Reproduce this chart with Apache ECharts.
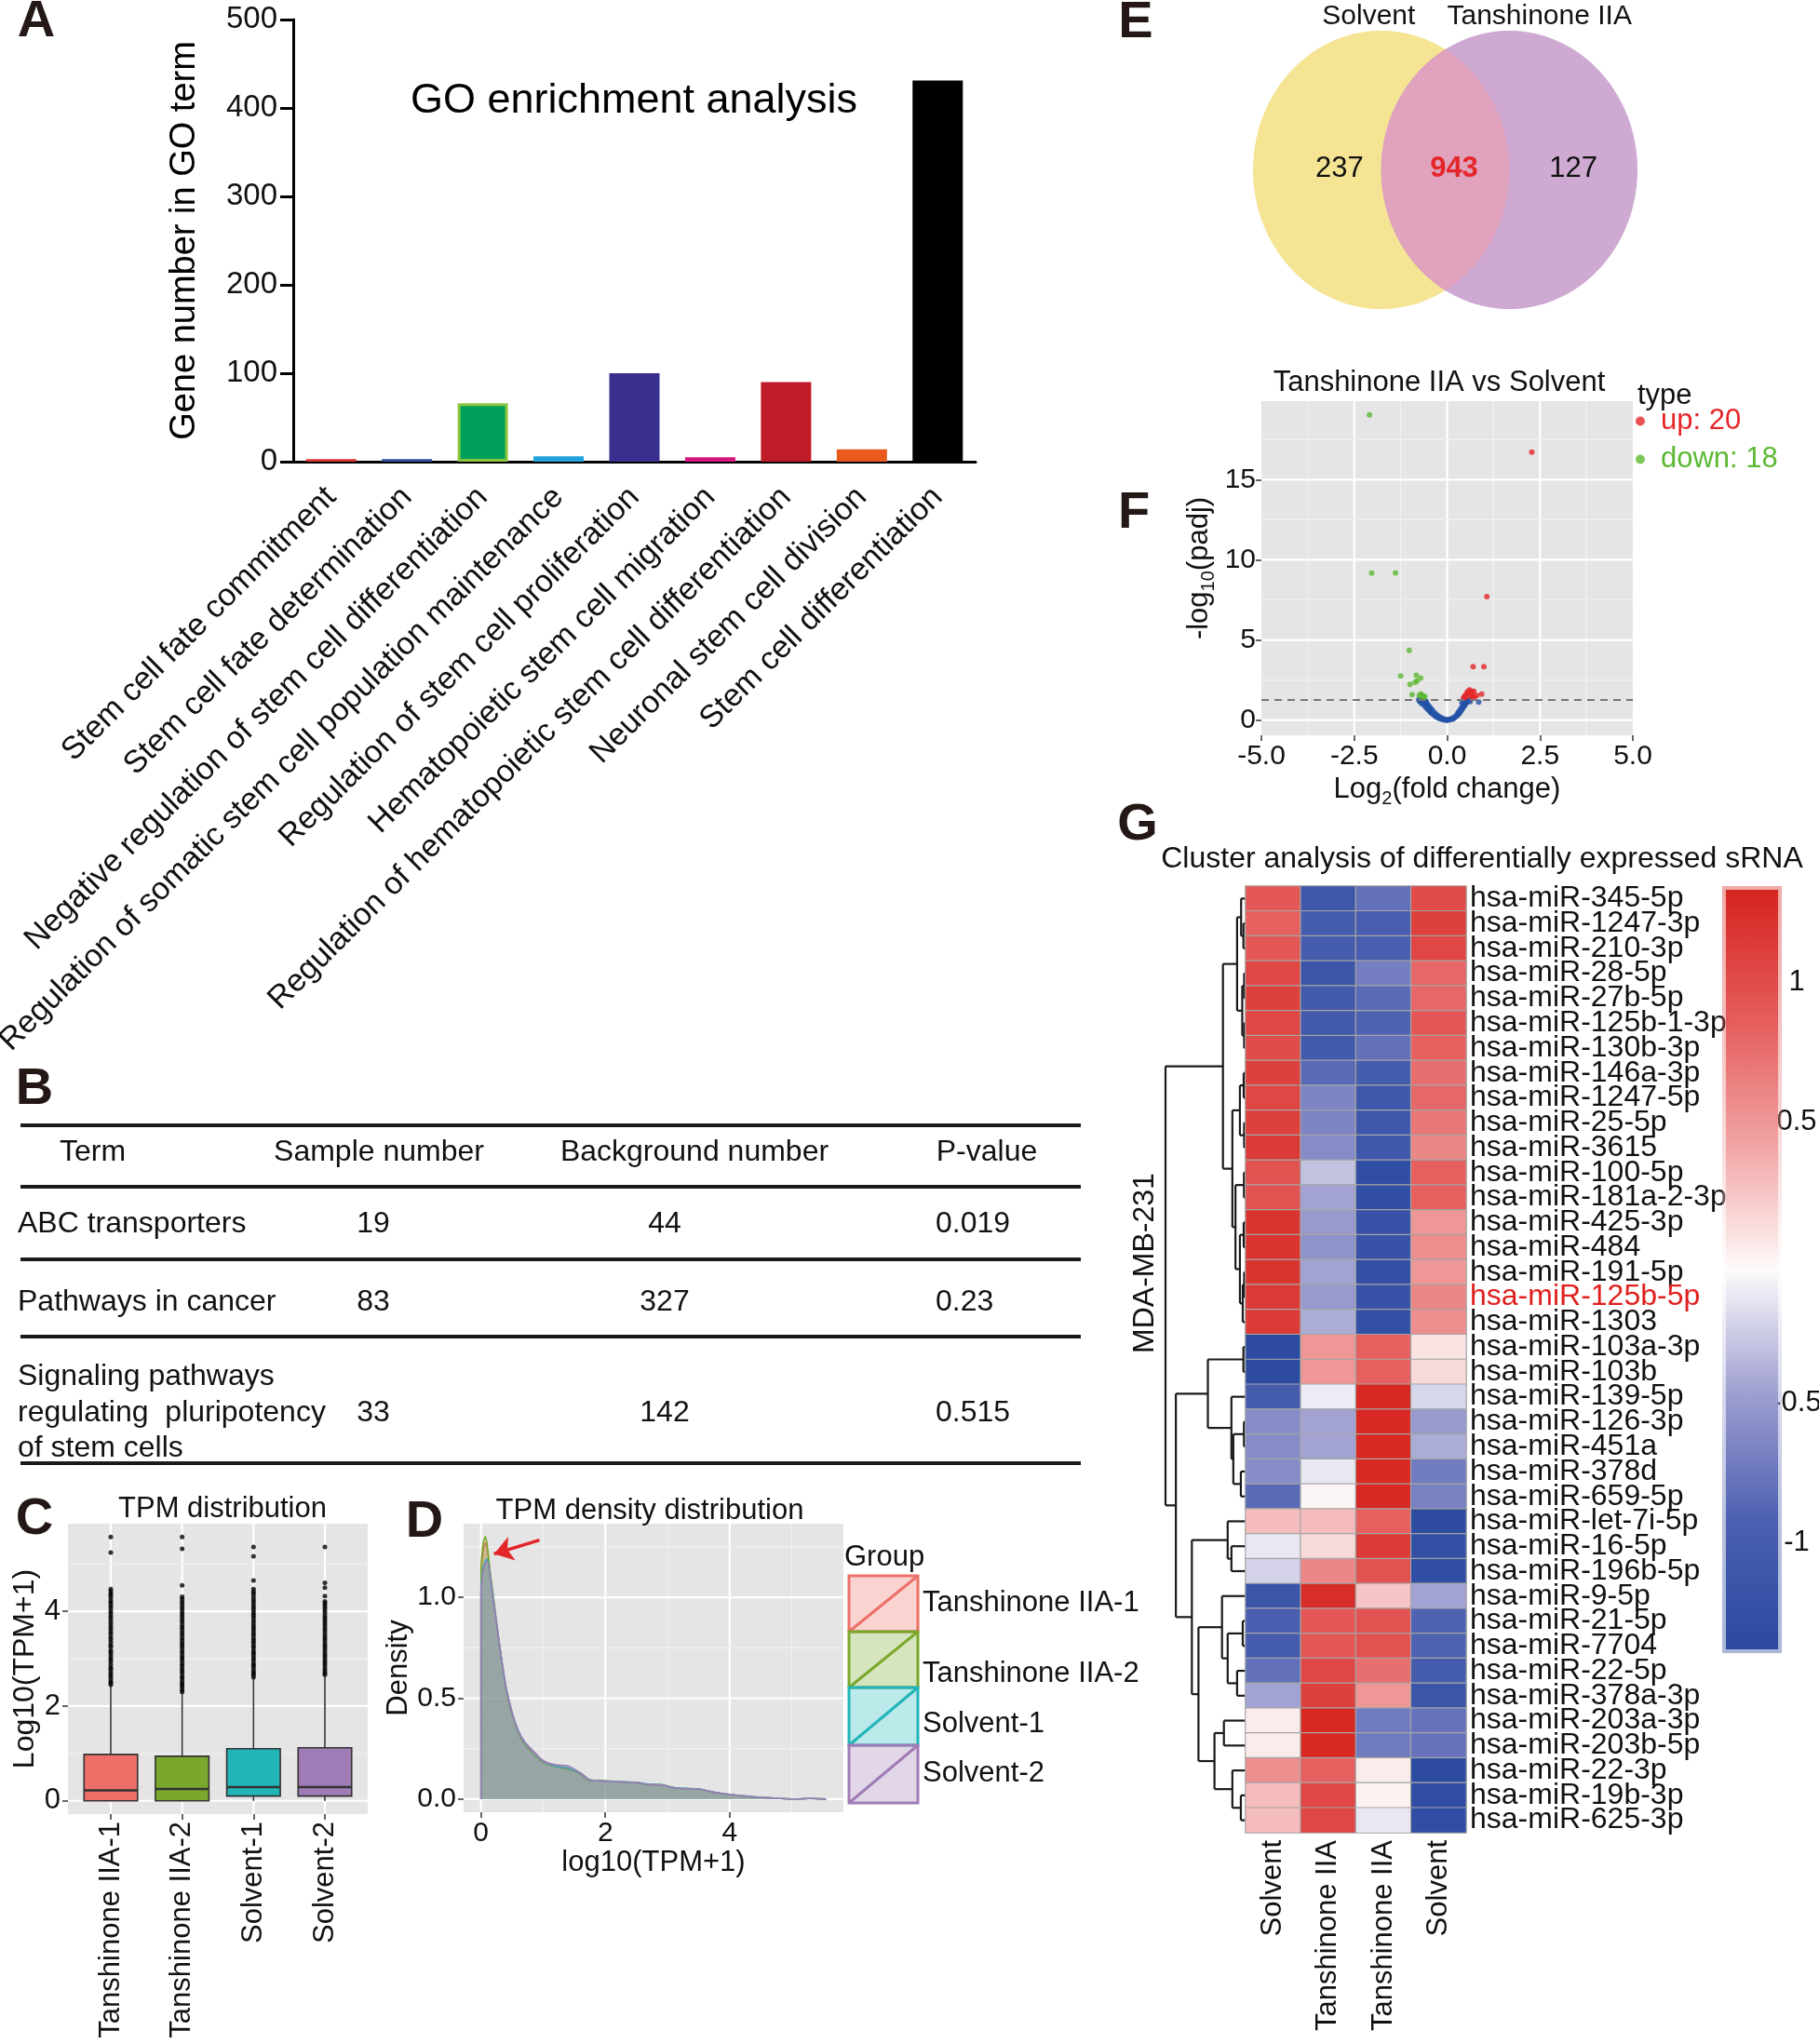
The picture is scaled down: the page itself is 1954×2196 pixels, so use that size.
<!DOCTYPE html>
<html><head><meta charset="utf-8">
<script src="https://cdn.jsdelivr.net/npm/echarts@6/dist/echarts.min.js"></script>
<style>html,body{margin:0;padding:0;background:#fff}#chart{width:1954px;height:2196px}</style>
</head><body><div id="chart"></div>
<script>
const FONT = "'Liberation Sans', Arial, Helvetica, sans-serif";

// ---------- Panel A: GO enrichment ----------
const goTerms = ['Stem cell fate commitment','Stem cell fate determination','Negative regulation of stem cell differentiation','Regulation of somatic stem cell population maintenance','Regulation of stem cell proliferation','Hematopoietic stem cell migration','Regulation of hematopoietic stem cell differentiation','Neuronal stem cell division','Stem cell differentiation'];
const goCounts = [3, 3, 66, 6, 100, 5, 90, 14, 431];
const goYTicks = [0, 100, 200, 300, 400, 500];

// ---------- Panel B: KEGG table ----------
const tableHeader = ['Term','Sample number','Background number','P-value'];
const tableTerms = [['ABC transporters'], ['Pathways in cancer'], ['Signaling pathways','regulating  pluripotency','of stem cells']];
const tableSample = [19, 83, 33];
const tableBackground = [44, 327, 142];
const tablePValue = ['0.019', '0.23', '0.515'];

// ---------- Panel C: TPM boxplots ----------
const boxNames = ['Tanshinone IIA-1','Tanshinone IIA-2','Solvent-1','Solvent-2'];
// [lower whisker, Q1, median, Q3, upper whisker]
const boxStats = [
  [0, 0, 0.22, 0.98, 2.43],
  [0, 0, 0.25, 0.94, 2.28],
  [0, 0.1, 0.29, 1.10, 2.59],
  [0, 0.1, 0.29, 1.12, 2.64]
];
const boxOutliers1 = [2.45,2.49,2.52,2.58,2.63,2.67,2.72,2.78,2.81,2.87,2.93,2.98,3.03,3.09,3.14,3.18,3.25,3.29,3.35,3.41,3.46,3.52,3.57,3.63,3.68,3.74,3.79,3.85,3.9,3.96,4.01,4.07,4.12,4.18,4.22,4.28,4.33,4.37,4.42,4.47,5.24,5.57];
const boxOutliers2 = [2.3,2.34,2.39,2.44,2.48,2.53,2.59,2.63,2.69,2.74,2.79,2.85,2.9,2.96,3.01,3.06,3.12,3.17,3.23,3.28,3.33,3.39,3.44,3.5,3.55,3.61,3.66,3.71,3.77,3.82,3.88,3.93,3.98,4.04,4.09,4.15,4.2,4.26,4.31,4.55,5.32,5.57];
const boxOutliers3 = [2.61,2.66,2.7,2.75,2.81,2.86,2.9,2.96,3.01,3.07,3.12,3.16,3.22,3.27,3.33,3.38,3.43,3.49,3.54,3.6,3.65,3.7,3.76,3.81,3.87,3.92,3.97,4.03,4.08,4.13,4.19,4.24,4.3,4.36,4.41,4.47,4.65,5.16,5.36];
const boxOutliers4 = [2.66,2.7,2.75,2.8,2.86,2.91,2.95,3.01,3.06,3.11,3.17,3.22,3.27,3.32,3.38,3.43,3.48,3.53,3.59,3.64,3.7,3.75,3.8,3.85,3.9,3.96,4.02,4.07,4.12,4.17,4.21,4.32,4.5,4.6,5.36];
const boxYTicks = [0, 2, 4];
const boxYMinor = [1, 3, 5];

// ---------- Panel D: density ----------
const densX  = [0,0.03,0.07,0.1,0.15,0.2,0.25,0.3,0.4,0.5,0.6,0.7,0.85,1.0,1.2,1.4,1.6,1.75,1.9,2.1,2.3,2.5,2.7,2.9,3.1,3.3,3.5,3.7,3.9,4.1,4.3,4.5,4.7,4.9,5.1,5.3,5.55];
const densT1 = [1.08,1.22,1.27,1.24,1.11,0.99,0.87,0.75,0.55,0.42,0.33,0.28,0.23,0.19,0.163,0.15,0.125,0.094,0.092,0.087,0.084,0.08,0.07,0.07,0.055,0.051,0.05,0.036,0.025,0.018,0.012,0.008,0.005,0.002,0.001,0.003,0];
const densT2 = [1.12,1.26,1.30,1.26,1.12,1.0,0.88,0.76,0.55,0.42,0.33,0.27,0.22,0.18,0.16,0.148,0.125,0.09,0.094,0.089,0.085,0.081,0.071,0.071,0.057,0.052,0.049,0.037,0.026,0.019,0.013,0.009,0.005,0.002,0.001,0.003,0];
const densS1 = [1.02,1.14,1.18,1.19,1.1,0.99,0.87,0.76,0.56,0.43,0.34,0.285,0.235,0.19,0.165,0.155,0.13,0.096,0.092,0.088,0.086,0.083,0.074,0.072,0.057,0.053,0.05,0.038,0.027,0.02,0.014,0.009,0.005,0.002,0.001,0.003,0];
const densS2 = [1.0,1.12,1.17,1.18,1.09,0.98,0.87,0.76,0.56,0.43,0.34,0.285,0.235,0.19,0.17,0.165,0.13,0.095,0.09,0.087,0.085,0.082,0.073,0.071,0.056,0.052,0.05,0.037,0.027,0.02,0.014,0.009,0.005,0.002,0.001,0.004,0];
const densXTicks = [0, 2, 4];
const densXMinor = [1, 3, 5];
const densYTicks = [0, 0.5, 1.0];
const densYMinor = [0.25, 0.75, 1.25];
const densArrowFrom = [0.94, 1.284];
const densArrowTo = [0.21, 1.215];

// ---------- Panel E: Venn ----------
const vennSets = ['Solvent', 'Tanshinone IIA'];
const vennCounts = [237, 943, 127];

// ---------- Panel F: volcano ----------
const volcanoUp = [[2.28,16.72],[1.07,7.71],[0.70,3.33],[0.99,3.33],[0.61,1.88],[0.56,1.8],[0.52,1.66],[0.48,1.51],[0.57,1.57],[0.67,1.76],[0.72,1.8],[0.73,1.43],[0.93,1.62],[0.44,1.38],[0.62,1.70],[0.5,1.43],[0.66,1.49],[0.8,1.53],[0.47,1.45],[0.69,1.45]];
const volcanoDown = [[-2.09,19.05],[-2.03,9.17],[-1.39,9.19],[-1.02,4.35],[-1.25,2.75],[-0.83,2.79],[-0.71,2.62],[-1.0,2.23],[-0.86,2.36],[-0.81,2.45],[-0.94,1.59],[-0.71,1.64],[-0.64,1.49],[-0.66,1.42],[-0.6,1.47],[-0.68,1.56],[-0.75,1.53],[-0.62,1.39]];
const volcanoNs = [[-0.76,1.28],[-0.75,1.22],[-0.70,1.25],[-0.66,1.20],[-0.62,1.24],[-0.58,1.18],[-0.72,1.12],[-0.65,1.10],[-0.60,1.06],[-0.56,1.12],[-0.68,1.02],[-0.62,0.98],[-0.57,0.95],[-0.53,1.0],[-0.60,0.88],[-0.55,0.85],[-0.50,0.9],[-0.56,0.78],[-0.51,0.75],[-0.47,0.8],[-0.52,0.68],[-0.47,0.65],[-0.43,0.7],[-0.48,0.58],[-0.44,0.55],[-0.40,0.6],[-0.44,0.48],[-0.40,0.45],[-0.36,0.5],[-0.39,0.38],[-0.35,0.36],[-0.31,0.4],[-0.34,0.29],[-0.30,0.27],[-0.27,0.3],[-0.29,0.2],[-0.25,0.19],[-0.22,0.22],[-0.23,0.12],[-0.19,0.11],[-0.16,0.14],[-0.16,0.06],[-0.14,0.09],[-0.12,0.05],[-0.09,0.07],[-0.08,0.02],[-0.05,0.03],[-0.04,0.01],[0.0,0.0],[0.02,0.01],[0.04,0.04],[0.06,0.02],[0.09,0.05],[0.12,0.06],[0.14,0.1],[0.16,0.08],[0.17,0.12],[0.19,0.16],[0.22,0.2],[0.24,0.24],[0.26,0.28],[0.29,0.33],[0.31,0.38],[0.28,0.42],[0.33,0.45],[0.35,0.5],[0.32,0.55],[0.37,0.58],[0.39,0.64],[0.36,0.68],[0.41,0.72],[0.43,0.78],[0.40,0.82],[0.45,0.86],[0.47,0.92],[0.44,0.96],[0.49,1.0],[0.51,1.05],[0.46,1.08],[0.53,1.12],[0.55,1.18],[0.50,1.2],[0.58,1.22],[0.62,1.15],[0.60,1.25],[0.40,1.1],[0.45,1.25],[0.85,1.12]];
const volcanoXTicks = [-5, -2.5, 0, 2.5, 5];
const volcanoXMinor = [-3.75, -1.25, 1.25, 3.75];
const volcanoYTicks = [0, 5, 10, 15];
const volcanoYMinor = [2.5, 7.5, 12.5, 17.5];
const padjThreshold = 1.301; // -log10(0.05)

// ---------- Panel G: heatmap ----------
const heatCols = ['Solvent','Tanshinone IIA','Tanshinone IIA','Solvent'];
const heatRows = ['hsa-miR-345-5p','hsa-miR-1247-3p','hsa-miR-210-3p','hsa-miR-28-5p','hsa-miR-27b-5p','hsa-miR-125b-1-3p','hsa-miR-130b-3p','hsa-miR-146a-3p','hsa-miR-1247-5p','hsa-miR-25-5p','hsa-miR-3615','hsa-miR-100-5p','hsa-miR-181a-2-3p','hsa-miR-425-3p','hsa-miR-484','hsa-miR-191-5p','hsa-miR-125b-5p','hsa-miR-1303','hsa-miR-103a-3p','hsa-miR-103b','hsa-miR-139-5p','hsa-miR-126-3p','hsa-miR-451a','hsa-miR-378d','hsa-miR-659-5p','hsa-miR-let-7i-5p','hsa-miR-16-5p','hsa-miR-196b-5p','hsa-miR-9-5p','hsa-miR-21-5p','hsa-miR-7704','hsa-miR-22-5p','hsa-miR-378a-3p','hsa-miR-203a-3p','hsa-miR-203b-5p','hsa-miR-22-3p','hsa-miR-19b-3p','hsa-miR-625-3p'];
const heatHighlight = 'hsa-miR-125b-5p';
const heatValues = [
  [0.9,-1.1,-0.8,1.0],[0.85,-1.0,-0.95,1.1],[0.9,-1.0,-0.95,1.05],[1.05,-1.15,-0.7,0.8],
  [1.1,-1.05,-0.85,0.8],[1.05,-1.05,-0.9,0.9],[1.0,-1.05,-0.8,0.85],[1.1,-0.85,-1.0,0.75],
  [1.05,-0.65,-1.1,0.8],[1.1,-0.65,-1.1,0.7],[1.15,-0.6,-1.1,0.6],[0.95,-0.3,-1.3,0.85],
  [0.95,-0.45,-1.3,0.85],[1.2,-0.5,-1.2,0.5],[1.2,-0.55,-1.2,0.55],[1.2,-0.45,-1.25,0.5],
  [1.15,-0.5,-1.2,0.6],[1.15,-0.4,-1.25,0.55],[-1.35,0.5,0.85,0.1],[-1.35,0.5,0.85,0.15],
  [-1.0,-0.1,1.3,-0.2],[-0.6,-0.45,1.3,-0.5],[-0.6,-0.45,1.3,-0.4],[-0.6,-0.12,1.3,-0.72],
  [-0.85,0.0,1.3,-0.68],[0.3,0.3,0.85,-1.35],[-0.12,0.15,1.15,-1.25],[-0.22,0.6,0.95,-1.3],
  [-1.15,1.25,0.25,-0.45],[-0.95,0.9,0.95,-0.9],[-1.0,0.9,0.95,-0.9],[-0.8,1.05,0.75,-1.0],
  [-0.45,1.1,0.5,-1.15],[0.05,1.3,-0.72,-0.78],[0.05,1.3,-0.72,-0.78],[0.55,0.85,0.05,-1.35],
  [0.3,1.05,0.02,-1.3],[0.3,1.05,-0.12,-1.3]
];
// dendrogram: [left, right, height]; leaves are row indices
const dendroTree = [
  [
    [[0,[1,2,2.3],4.7],[[3,4,1.5],[5,6,1.5],3.5],9],
    [[[7,8,2],[9,10,1.5],6],[[11,12,1.7],[[13,14,2],[[15,16,1.5],17,3],6],10.7],14],
    24
  ],
  [
    [[18,19,2.3],[20,[[21,22,1.7],[23,24,5],13],15],40],
    [[25,[26,27,15],19],[[28,[[29,30,3],[31,32,9],19],25],[[33,34,23],[35,[36,37,5],14],33],50],57],
    74
  ],
  85
];
const colorbarTicks = [1, 0.5, -0.5, -1];
const colorMin = -1.38, colorMax = 1.33;

// ---------- styles ----------
const goColors = ['#d9342c','#2f4f9e','#00a05a','#22a3dc','#392f8e','#d6177f','#c01b28','#e85a1e','#000000'];
const groupColors = ['#ec7068','#7aa82c','#22b5b8','#a07cb7'];
const heatColors = ['#2a4aa0','#4b5fb0','#9c9dd0','#fdfbfb','#f1a3a3','#e45b5a','#d6241f'];
const RED = '#e5262a', GREEN = '#5cb833', BLUE = '#2452a8';

// ---------- helpers ----------
function gridLineData(xMaj, xMin, yMaj, yMin) {
  const d = [];
  xMaj.forEach(v => d.push([0, v, 0])); xMin.forEach(v => d.push([0, v, 1]));
  yMaj.forEach(v => d.push([1, v, 0])); yMin.forEach(v => d.push([1, v, 1]));
  return d;
}
function renderGridLine(params, api) {
  const cs = params.coordSys;
  const kind = api.value(0), v = api.value(1), minor = api.value(2);
  let shape;
  if (kind === 0) { const px = api.coord([v, 0])[0]; shape = {x1: px, y1: cs.y, x2: px, y2: cs.y + cs.height}; }
  else { const py = api.coord([0, v])[1]; shape = {x1: cs.x, y1: py, x2: cs.x + cs.width, y2: py}; }
  return {type: 'line', shape, silent: true, style: {stroke: minor ? '#f1f1f1' : '#ffffff', lineWidth: minor ? 1.2 : 2.2}};
}
function txt(x, y, text, size, o) {
  o = o || {};
  return {type: 'text', x, y, rotation: o.rot || 0, silent: true, z: 50,
    style: {text, fill: o.color || '#111', fontSize: size, fontFamily: FONT, fontWeight: o.bold ? 'bold' : 'normal',
      align: o.align || 'center', verticalAlign: 'middle', textAlign: o.align || 'center', textVerticalAlign: 'middle'}};
}
function hline(x1, x2, y, w) {
  return {type: 'line', silent: true, shape: {x1, y1: y, x2, y2: y}, style: {stroke: '#1a1a1a', lineWidth: w}};
}
const axisTxt = {color: '#111', fontFamily: FONT};
const hiddenLine = {show: false, onZero: false};

// dendrogram segments
const dendroSegs = [];
(function walk(node) {
  if (typeof node === 'number') return {y: node, h: 0};
  const a = walk(node[0]), b = walk(node[1]), h = node[2];
  dendroSegs.push([a.h, a.y, h, a.y], [b.h, b.y, h, b.y], [h, a.y, h, b.y]);
  return {y: (a.y + b.y) / 2, h};
})(dendroTree);

const heatData = [];
heatValues.forEach((row, r) => row.forEach((v, c) => heatData.push([c, r, v])));

const upName = 'up: ' + volcanoUp.length;
const downName = 'down: ' + volcanoDown.length;

// ---------- graphic (titles, letters, table, legend D) ----------
const g = [];
[['A',39,24],['B',37,1171],['C',37,1633],['D',456,1636],['E',1220,25],['F',1218,552],['G',1222,887]]
  .forEach(([t,x,y]) => g.push(txt(x, y, t, 56, {bold: true, color: '#231815'})));
g.push(txt(681, 109, 'GO enrichment analysis', 45, {color: '#000'}));
g.push(txt(239, 1621, 'TPM distribution', 31));
g.push(txt(698, 1623, 'TPM density distribution', 31));
g.push(txt(1546, 411, 'Tanshinone IIA vs Solvent', 31));
g.push(txt(1592, 923, 'Cluster analysis of differentially expressed sRNA', 32));
g.push(txt(1230, 1357, 'MDA-MB-231', 32, {rot: Math.PI / 2}));
g.push(txt(1759, 425, 'type', 31, {align: 'left'}));
// table B
[1209, 1275, 1353, 1436, 1572].forEach(y => g.push(hline(22, 1161, y, 4)));
g.push(txt(64, 1238, tableHeader[0], 32, {align: 'left'}));
g.push(txt(407, 1238, tableHeader[1], 32));
g.push(txt(746, 1238, tableHeader[2], 32));
g.push(txt(1060, 1238, tableHeader[3], 32));
const rowY = [1315, 1399, 1518];
tableTerms.forEach((lines, i) => {
  const n = lines.length;
  lines.forEach((l, k) => g.push(txt(19, rowY[i] + (k - (n - 1) / 2) * 38.5, l, 32, {align: 'left'})));
  g.push(txt(401, rowY[i], String(tableSample[i]), 32));
  g.push(txt(714, rowY[i], String(tableBackground[i]), 32));
  g.push(txt(1005, rowY[i], tablePValue[i], 32, {align: 'left'}));
});
// legend D
g.push(txt(907, 1673, 'Group', 31, {align: 'left'}));
const keyTops = [1693, 1753, 1813, 1875], keyH = [60, 60, 62, 62], keyLabelY = [1722, 1798, 1852, 1905];
boxNames.forEach((n, i) => {
  g.push({type: 'rect', silent: true, shape: {x: 912, y: keyTops[i], width: 74, height: keyH[i]},
    style: {fill: groupColors[i], opacity: 0.3}});
  g.push({type: 'rect', silent: true, shape: {x: 912, y: keyTops[i], width: 74, height: keyH[i]},
    style: {fill: 'none', stroke: groupColors[i], lineWidth: 3}});
  g.push({type: 'line', silent: true, shape: {x1: 912, y1: keyTops[i] + keyH[i], x2: 986, y2: keyTops[i]},
    style: {stroke: groupColors[i], lineWidth: 3}});
  g.push(txt(991, keyLabelY[i], n, 31, {align: 'left'}));
});

// ---------- option ----------
const option = {
  backgroundColor: '#fff',
  animation: false,
  textStyle: {fontFamily: FONT},
  graphic: {elements: g},
  legend: {
    data: [{name: upName, textStyle: {color: RED}}, {name: downName, textStyle: {color: GREEN}}],
    orient: 'vertical', left: 1757, top: 437, itemWidth: 34, itemHeight: 10, itemGap: 10,
    icon: 'circle', selectedMode: false, padding: 0,
    textStyle: {fontSize: 31, fontFamily: FONT}
  },
  visualMap: [{type: 'continuous', show: false, seriesIndex: 7, dimension: 2, min: colorMin, max: colorMax,
    inRange: {color: heatColors}}],
  grid: [
    {left: 315, top: 21, width: 733, height: 475, outerBoundsMode: 'none'},
    {left: 1346, top: 33, width: 413, height: 299, outerBoundsMode: 'none'},
    {left: 1355, top: 431, width: 399, height: 359, show: true, backgroundColor: '#e5e5e5', borderWidth: 0, outerBoundsMode: 'none'},
    {left: 1252, top: 952, width: 86, height: 1017, outerBoundsMode: 'none'},
    {left: 1338, top: 952, width: 237, height: 1017, outerBoundsMode: 'none'},
    {left: 1854, top: 956, width: 56, height: 816, outerBoundsMode: 'none'},
    {left: 73, top: 1637, width: 322, height: 312, show: true, backgroundColor: '#e5e5e5', borderWidth: 0, outerBoundsMode: 'none'},
    {left: 498, top: 1637, width: 408, height: 310, show: true, backgroundColor: '#e5e5e5', borderWidth: 0, outerBoundsMode: 'none'}
  ],
  xAxis: [
    {gridIndex: 0, type: 'category', data: goTerms,
      axisLine: {lineStyle: {color: '#000', width: 3}},
      axisTick: {alignWithLabel: true, length: 14, lineStyle: {color: '#000', width: 3}},
      axisLabel: Object.assign({rotate: 45, interval: 0, fontSize: 34, margin: 33}, axisTxt), splitLine: {show: false}},
    {gridIndex: 1, type: 'value', min: 0, max: 1, show: false},
    {gridIndex: 2, type: 'value', min: -5, max: 5, interval: 2.5, position: 'bottom',
      axisLine: hiddenLine, axisTick: {show: true, length: 6, lineStyle: {color: '#333', width: 1.5}},
      axisLabel: Object.assign({fontSize: 30, margin: 8, formatter: v => v.toFixed(1)}, axisTxt), splitLine: {show: false},
      name: 'Log{sub|2}(fold change)', nameLocation: 'middle', nameGap: 35,
      nameTextStyle: {fontSize: 31, color: '#111', fontFamily: FONT, lineHeight: 40,
        rich: {sub: {fontSize: 20, lineHeight: 20, verticalAlign: 'bottom', fontFamily: FONT, color: '#111'}}}},
    {gridIndex: 3, type: 'value', min: 0, max: 85, inverse: true, show: false},
    {gridIndex: 4, type: 'category', data: heatCols, axisLine: {show: false}, axisTick: {show: false},
      axisLabel: Object.assign({rotate: 90, interval: 0, fontSize: 31, margin: 8}, axisTxt), splitLine: {show: false}},
    {gridIndex: 5, type: 'value', min: 0, max: 1, show: false},
    {gridIndex: 6, type: 'value', min: 0.4, max: 4.6, position: 'bottom', axisLine: hiddenLine,
      axisTick: {show: true, customValues: [1, 2, 3, 4], length: 6, lineStyle: {color: '#333', width: 1.5}},
      axisLabel: Object.assign({customValues: [1, 2, 3, 4], rotate: 90, fontSize: 31, margin: 8,
        formatter: v => boxNames[Math.round(v) - 1]}, axisTxt), splitLine: {show: false}},
    {gridIndex: 7, type: 'value', min: -0.28, max: 5.83, position: 'bottom', axisLine: hiddenLine,
      axisTick: {show: true, customValues: densXTicks, length: 6, lineStyle: {color: '#333', width: 1.5}},
      axisLabel: Object.assign({customValues: densXTicks, fontSize: 30, margin: 8}, axisTxt), splitLine: {show: false},
      name: 'log10(TPM+1)', nameLocation: 'middle', nameGap: 30, nameTextStyle: {fontSize: 31, color: '#111', fontFamily: FONT}}
  ],
  yAxis: [
    {gridIndex: 0, type: 'value', min: 0, max: 500, interval: 100,
      axisLine: {show: true, lineStyle: {color: '#000', width: 3}},
      axisTick: {show: true, length: 14, lineStyle: {color: '#000', width: 3}},
      axisLabel: Object.assign({fontSize: 33, margin: 17}, axisTxt), splitLine: {show: false},
      name: 'Gene number in GO term', nameLocation: 'middle', nameGap: 97,
      nameTextStyle: {fontSize: 38, color: '#000', fontFamily: FONT}},
    {gridIndex: 1, type: 'value', min: 0, max: 1, show: false},
    {gridIndex: 2, type: 'value', min: -0.95, max: 19.9, position: 'left', axisLine: hiddenLine,
      axisTick: {show: true, customValues: volcanoYTicks, length: 6, lineStyle: {color: '#333', width: 1.5}},
      axisLabel: Object.assign({customValues: volcanoYTicks, fontSize: 30, margin: 6}, axisTxt), splitLine: {show: false},
      name: '-log{sub|10}(padj)', nameLocation: 'middle', nameGap: 47,
      nameTextStyle: {fontSize: 31, color: '#111', fontFamily: FONT, lineHeight: 40,
        rich: {sub: {fontSize: 20, lineHeight: 20, verticalAlign: 'bottom', fontFamily: FONT, color: '#111'}}}},
    {gridIndex: 3, type: 'value', min: -0.5, max: 37.5, inverse: true, show: false},
    {gridIndex: 4, type: 'category', data: heatRows, inverse: true, position: 'right',
      axisLine: {show: false}, axisTick: {show: false}, splitLine: {show: false},
      axisLabel: Object.assign({interval: 0, fontSize: 32, margin: 4,
        formatter: v => v === heatHighlight ? '{hl|' + v + '}' : v,
        rich: {hl: {color: '#e0201e', fontSize: 32, fontFamily: FONT}}}, axisTxt)},
    {gridIndex: 5, type: 'value', min: colorMin, max: colorMax, position: 'right',
      axisLine: hiddenLine, axisTick: {show: false, customValues: colorbarTicks}, splitLine: {show: false},
      axisLabel: Object.assign({customValues: colorbarTicks, fontSize: 31, margin: 20, align: 'center',
        formatter: v => String(v)}, axisTxt)},
    {gridIndex: 6, type: 'value', min: -0.28, max: 5.85, position: 'left', axisLine: hiddenLine,
      axisTick: {show: true, customValues: boxYTicks, length: 6, lineStyle: {color: '#333', width: 1.5}},
      axisLabel: Object.assign({customValues: boxYTicks, fontSize: 31, margin: 8}, axisTxt), splitLine: {show: false},
      name: 'Log10(TPM+1)', nameLocation: 'middle', nameGap: 30, nameTextStyle: {fontSize: 32, color: '#111', fontFamily: FONT}},
    {gridIndex: 7, type: 'value', min: -0.065, max: 1.365, position: 'left', axisLine: hiddenLine,
      axisTick: {show: true, customValues: densYTicks, length: 6, lineStyle: {color: '#333', width: 1.5}},
      axisLabel: Object.assign({customValues: densYTicks, fontSize: 30, margin: 8, formatter: v => v.toFixed(1)}, axisTxt),
      splitLine: {show: false},
      name: 'Density', nameLocation: 'middle', nameGap: 49, nameTextStyle: {fontSize: 31, color: '#111', fontFamily: FONT}}
  ],
  series: [
    // 0 GO bars
    {type: 'bar', xAxisIndex: 0, yAxisIndex: 0, barWidth: 54, silent: true,
      data: goCounts.map((v, i) => ({value: v, itemStyle: {color: goColors[i],
        borderColor: i === 2 ? '#8cc63f' : goColors[i], borderWidth: i === 2 ? 3 : 0}}))},
    // 1 Venn
    {type: 'custom', xAxisIndex: 1, yAxisIndex: 1, silent: true, data: [[0.5, 0.5]],
      renderItem: function (params, api) {
        const c1 = api.coord([1 / 3, 0.5]), c2 = api.coord([2 / 3, 0.5]);
        const rx = api.size([1 / 3, 0])[0], ry = api.size([0, 0.5])[1];
        const ell = (c) => { const p = []; for (let k = 0; k < 180; k++) { const t = k / 180 * 2 * Math.PI; p.push([c[0] + rx * Math.cos(t), c[1] + ry * Math.sin(t)]); } return p; };
        const xm = (c1[0] + c2[0]) / 2, t0 = Math.acos((xm - c1[0]) / rx), lens = [];
        for (let k = 0; k <= 60; k++) { const t = -t0 + 2 * t0 * k / 60; lens.push([c1[0] + rx * Math.cos(t), c1[1] + ry * Math.sin(t)]); }
        for (let k = 0; k <= 60; k++) { const t = Math.PI - t0 + 2 * t0 * k / 60; lens.push([c2[0] + rx * Math.cos(t), c2[1] + ry * Math.sin(t)]); }
        const pos = [[0.225, 0.505], [0.523, 0.505], [0.833, 0.505]];
        const kids = [
          {type: 'polygon', shape: {points: ell(c1)}, style: {fill: '#f5e493'}},
          {type: 'polygon', shape: {points: ell(c2)}, style: {fill: '#ceaad3'}},
          {type: 'polygon', shape: {points: lens}, style: {fill: '#e0a2bc'}}
        ];
        vennCounts.forEach((n, i) => { const p = api.coord(pos[i]);
          kids.push({type: 'text', x: p[0], y: p[1], style: {text: String(n), fontSize: 31, fontFamily: FONT,
            fontWeight: i === 1 ? 'bold' : 'normal', fill: i === 1 ? '#e3262a' : '#111', align: 'center', verticalAlign: 'middle'}}); });
        const sp = [[0.301, 1.05], [0.745, 1.05]];
        vennSets.forEach((s, i) => { const p = api.coord(sp[i]);
          kids.push({type: 'text', x: p[0], y: p[1], style: {text: s, fontSize: 30, fontFamily: FONT, fill: '#111', align: 'center', verticalAlign: 'middle'}}); });
        return {type: 'group', children: kids};
      }},
    // 2 volcano grid lines
    {type: 'custom', xAxisIndex: 2, yAxisIndex: 2, silent: true, z: 1,
      data: gridLineData(volcanoXTicks.slice(1, -1), volcanoXMinor, volcanoYTicks, volcanoYMinor), renderItem: renderGridLine},
    // 3 ns points
    {type: 'scatter', name: 'ns', xAxisIndex: 2, yAxisIndex: 2, z: 3, silent: true, symbolSize: 6,
      itemStyle: {color: BLUE}, data: volcanoNs,
      markLine: {silent: true, symbol: 'none', label: {show: false}, lineStyle: {color: '#777', type: [8, 6], width: 2},
        data: [{yAxis: padjThreshold}]}},
    // 4 up
    {type: 'scatter', name: upName, xAxisIndex: 2, yAxisIndex: 2, z: 4, silent: true, symbolSize: 6,
      itemStyle: {color: RED}, data: volcanoUp},
    // 5 down
    {type: 'scatter', name: downName, xAxisIndex: 2, yAxisIndex: 2, z: 4, silent: true, symbolSize: 6,
      itemStyle: {color: GREEN}, data: volcanoDown},
    // 6 dendrogram
    {type: 'custom', xAxisIndex: 3, yAxisIndex: 3, silent: true, data: dendroSegs, encode: {x: [0, 2], y: [1, 3]},
      renderItem: function (params, api) {
        const p1 = api.coord([api.value(0), api.value(1)]), p2 = api.coord([api.value(2), api.value(3)]);
        return {type: 'line', shape: {x1: p1[0], y1: p1[1], x2: p2[0], y2: p2[1]}, style: {stroke: '#1a1a1a', lineWidth: 2.2}};
      }},
    // 7 heatmap
    {type: 'heatmap', xAxisIndex: 4, yAxisIndex: 4, silent: true, data: heatData,
      itemStyle: {borderColor: '#a5a5a5', borderWidth: 1.2}, emphasis: {disabled: true}},
    // 8 colorbar
    {type: 'custom', xAxisIndex: 5, yAxisIndex: 5, silent: true, data: [[0.5, 0]],
      renderItem: function (params, api) {
        const p0 = api.coord([0, colorMax]), p1 = api.coord([1, colorMin]);
        const stops = heatColors.slice().reverse().map((c, i, a) => ({offset: i / (a.length - 1), color: c}));
        const grad = new echarts.graphic.LinearGradient(0, 0, 0, 1, stops);
        return {type: 'group', children: [
          {type: 'rect', shape: {x: p0[0] - 4, y: p0[1] - 4, width: p1[0] - p0[0] + 8, height: p1[1] - p0[1] + 8}, style: {fill: grad, opacity: 0.4}},
          {type: 'rect', shape: {x: p0[0], y: p0[1], width: p1[0] - p0[0], height: p1[1] - p0[1]}, style: {fill: grad}}
        ]};
      }},
    // 9 C grid lines
    {type: 'custom', xAxisIndex: 6, yAxisIndex: 6, silent: true, z: 1,
      data: gridLineData([1, 2, 3, 4], [], boxYTicks, boxYMinor), renderItem: renderGridLine},
    // 10 boxes
    {type: 'custom', xAxisIndex: 6, yAxisIndex: 6, silent: true, z: 3,
      data: boxStats.map((s, i) => [i + 1].concat(s)), encode: {x: 0, y: [1, 2, 3, 4, 5]},
      renderItem: function (params, api) {
        const x = api.value(0), i = params.dataIndex, hw = 0.375;
        const lo = api.coord([x, api.value(1)]), q1 = api.coord([x, api.value(2)]), md = api.coord([x, api.value(3)]),
              q3 = api.coord([x, api.value(4)]), hi = api.coord([x, api.value(5)]);
        const l = api.coord([x - hw, 0])[0], r = api.coord([x + hw, 0])[0];
        const st = {stroke: '#333', lineWidth: 1.6};
        return {type: 'group', children: [
          {type: 'line', shape: {x1: hi[0], y1: hi[1], x2: q3[0], y2: q3[1]}, style: st},
          {type: 'line', shape: {x1: lo[0], y1: lo[1], x2: q1[0], y2: q1[1]}, style: st},
          {type: 'rect', shape: {x: l, y: q3[1], width: r - l, height: q1[1] - q3[1]}, style: {fill: groupColors[i], stroke: '#333', lineWidth: 1.6}},
          {type: 'line', shape: {x1: l, y1: md[1], x2: r, y2: md[1]}, style: {stroke: '#333', lineWidth: 2.4}}
        ]};
      }},
    // 11 outliers
    {type: 'scatter', xAxisIndex: 6, yAxisIndex: 6, silent: true, z: 4, symbolSize: 5, itemStyle: {color: '#000'},
      data: [boxOutliers1, boxOutliers2, boxOutliers3, boxOutliers4].flatMap((arr, i) => arr.map(v => [i + 1, v]))},
    // 12 D grid lines
    {type: 'custom', xAxisIndex: 7, yAxisIndex: 7, silent: true, z: 1,
      data: gridLineData(densXTicks, densXMinor, densYTicks, densYMinor), renderItem: renderGridLine}
  ].concat([densT1, densT2, densS1, densS2].map((arr, i) => ({
    type: 'line', name: boxNames[i], xAxisIndex: 7, yAxisIndex: 7, silent: true, z: 3 + i,
    smooth: 0.25, symbol: 'none', data: [[0, 0]].concat(densX.map((x, k) => [x, arr[k]])),
    lineStyle: {color: groupColors[i], width: 1.6}, areaStyle: {color: groupColors[i], opacity: 0.3},
    markLine: i === 3 ? {silent: true, symbol: ['none', 'arrow'], symbolSize: 20, label: {show: false},
      lineStyle: {color: '#e3262a', width: 3.5, type: 'solid'},
      data: [[{coord: densArrowFrom}, {coord: densArrowTo}]]} : undefined
  })))
};

const chart = echarts.init(document.getElementById('chart'), null, {renderer: 'canvas'});
chart.setOption(option);
</script>
</body></html>
